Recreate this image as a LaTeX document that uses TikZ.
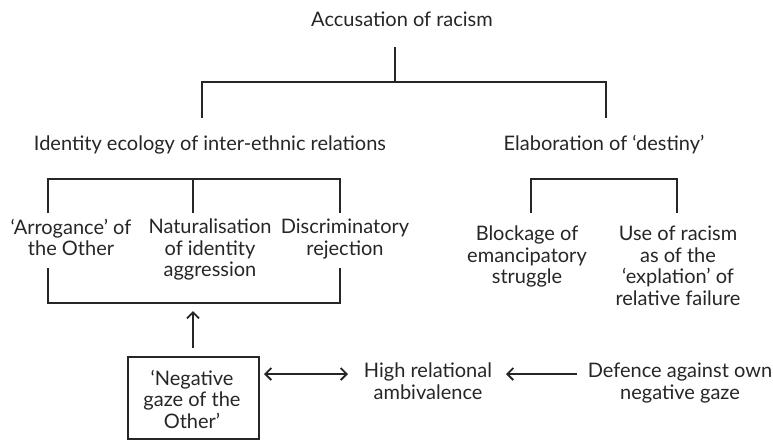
\documentclass[tikz,border=0pt]{standalone}
\usepackage{fontspec}
\setmainfont{Lato}
\usetikzlibrary{arrows.meta}
\tikzset{
  lbl/.style={align=center, inner sep=0pt, font=\fontsize{20}{21.5}\selectfont, text=black!85},
  ln/.style={line width=1.8pt, draw=black!85},
  tip/.tip={Straight Barb[length=6pt,width=12pt,line width=1.8pt]},
  arr/.style={ln, -tip},
  darr/.style={ln, tip-tip},
  boxed/.style={draw=black!85, line width=1.8pt, minimum width=131pt, minimum height=82pt, inner sep=0pt}
}
\begin{document}
\begin{tikzpicture}[x=1pt,y=-1pt]
\useasboundingbox (0,0) rectangle (773,440);
% nodes
\node[lbl] (root) at (402,19) {Accusation of racism};
\node[lbl] (ident) at (210,145) {Identity ecology of inter-ethnic relations};
\node[lbl] (elab) at (604,145) {Elaboration of `destiny'};
\node[lbl, anchor=north] (arro) at (71,219) {`Arrogance' of\\the Other};
\node[lbl, anchor=north] (natu) at (210,219) {Naturalisation\\of identity\\aggression};
\node[lbl, anchor=north] (disc) at (345,219) {Discriminatory\\rejection};
\node[lbl, anchor=north] (block) at (527,226) {Blockage of\\emancipatory\\struggle};
\node[lbl, anchor=north] (use) at (678,226) {Use of racism\\as of the\\`explation' of\\relative failure};
\node[boxed, anchor=north west] (neg) at (127,356) {};
\node[lbl] (negt) at (192,399) {`Negative\\gaze of the\\Other'};
\node[lbl, anchor=north] (high) at (428,363) {High relational\\ambivalence};
\node[lbl, anchor=north] (def) at (680,363) {Defence against own\\negative gaze};
% coordinates
\coordinate (r1) at (395,47);
\coordinate (r2) at (395,82);
\coordinate (rl) at (202,82);
\coordinate (rr) at (606,82);
\coordinate (rl2) at (202,118);
\coordinate (rr2) at (606,118);
\coordinate (a1) at (48,213);
\coordinate (a2) at (48,179);
\coordinate (a3) at (340,179);
\coordinate (a4) at (340,213);
\coordinate (am) at (193,179);
\coordinate (am2) at (193,213);
\coordinate (b1) at (531,213);
\coordinate (b2) at (531,179);
\coordinate (b3) at (677,179);
\coordinate (b4) at (677,213);
\coordinate (c1) at (48,268);
\coordinate (c2) at (48,303);
\coordinate (c3) at (340,303);
\coordinate (c4) at (340,268);
\coordinate (up1) at (193,348);
\coordinate (up2) at (193,311);
\coordinate (d1) at (264,374);
\coordinate (d2) at (348,374);
\coordinate (e1) at (577,374);
\coordinate (e2) at (506,374);
% connectors
\draw[ln] (r1) -- (r2);
\draw[ln] (rl2) -- (rl) -- (rr) -- (rr2);
\draw[ln] (a1) -- (a2) -- (a3) -- (a4);
\draw[ln] (am) -- (am2);
\draw[ln] (b1) -- (b2) -- (b3) -- (b4);
\draw[ln] (c1) -- (c2) -- (c3) -- (c4);
\draw[arr] (up1) -- (up2);
\draw[darr] (d1) -- (d2);
\draw[arr] (e1) -- (e2);
\end{tikzpicture}
\end{document}
